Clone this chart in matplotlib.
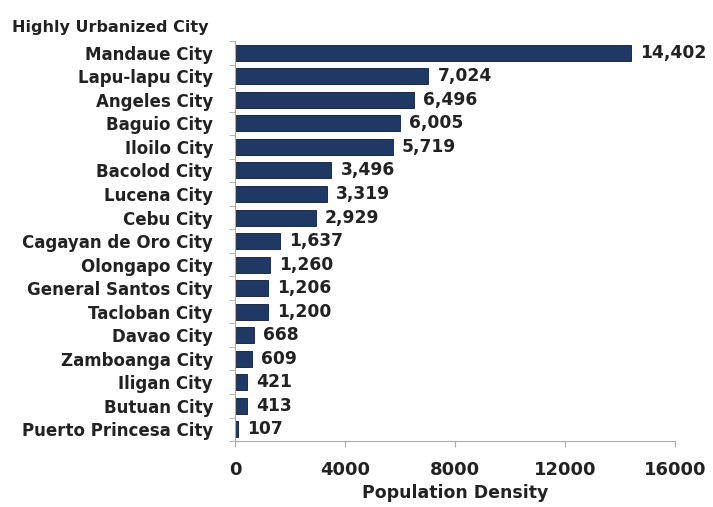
import matplotlib.pyplot as plt

cities = [
    "Mandaue City", "Lapu-lapu City", "Angeles City", "Baguio City",
    "Iloilo City", "Bacolod City", "Lucena City", "Cebu City",
    "Cagayan de Oro City", "Olongapo City", "General Santos City",
    "Tacloban City", "Davao City", "Zamboanga City", "Iligan City",
    "Butuan City", "Puerto Princesa City",
]
density = [14402, 7024, 6496, 6005, 5719, 3496, 3319, 2929, 1637,
           1260, 1206, 1200, 668, 609, 421, 413, 107]
xticks = [0, 4000, 8000, 12000, 16000]

fig = plt.figure(figsize=(7.13, 5.07), dpi=100)
ax = fig.add_axes([0.33, 0.13, 0.617, 0.789])

pos = list(range(len(cities)))
ax.barh(pos, density, height=0.68, color="#1f3864", edgecolor="#0d1a33", linewidth=0.6)
ax.set_ylim(len(cities) - 0.5, -0.5)
ax.set_xlim(0, 16000)

for p, v in zip(pos, density):
    ax.text(v + 330, p, f"{v:,}", va="center", ha="left",
            fontsize=12.3, fontweight="bold", color="#222222", clip_on=False)

ax.set_yticks(pos)
ax.set_yticklabels(cities, fontsize=12, fontweight="bold", color="#222222")
ax.set_yticks([p + 0.5 for p in [-1] + pos], minor=True)
ax.tick_params(axis="y", which="major", length=0, pad=16)
ax.tick_params(axis="y", which="minor", length=4, color="#aaaaaa", direction="out")

ax.set_xticks(xticks)
ax.set_xticklabels([str(t) for t in xticks], fontsize=13, fontweight="bold", color="#222222")
ax.tick_params(axis="x", length=4, color="#aaaaaa", pad=10)
ax.set_xlabel("Population Density", fontsize=12.5, fontweight="bold", color="#222222", labelpad=4)

for s in ["top", "right"]:
    ax.spines[s].set_visible(False)
ax.spines["left"].set_color("#aaaaaa")
ax.spines["bottom"].set_color("#aaaaaa")

fig.text(0.017, 0.937, "Highly Urbanized City", fontsize=11.5, fontweight="bold", color="#222222")

fig.savefig("out.png")
